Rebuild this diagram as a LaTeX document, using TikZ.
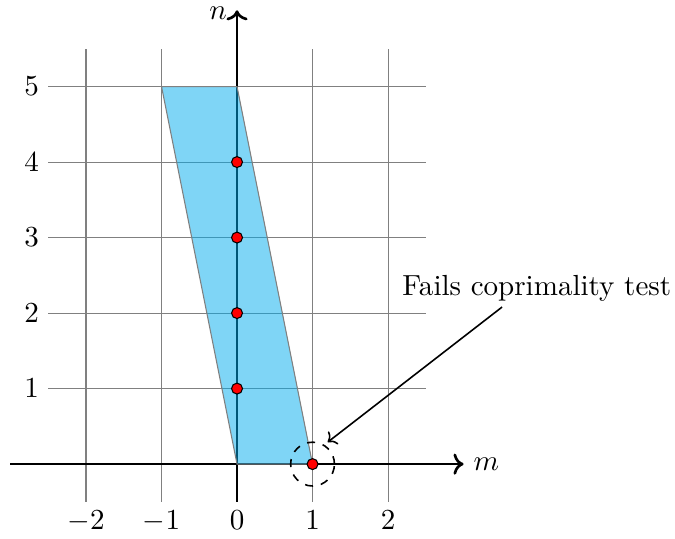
\documentclass[tikz,border=0pt]{standalone}
\usetikzlibrary{arrows.meta}
\definecolor{regionblue}{RGB}{0,172,238}
\begin{document}
\begin{tikzpicture}[
  font=\fontsize{10.95}{13.6}\selectfont,
  gridline/.style={gray, thin},
  axis/.style={line width=1pt, ->},
  region/.style={fill=regionblue, fill opacity=0.5, draw=gray, thin},
  dot/.style={circle, fill=red, draw=black, inner sep=0pt, minimum size=1.45mm},
  ring/.style={circle, draw=black, semithick, dashed, minimum size=0.58cm, inner sep=0pt},
  note/.style={inner sep=2pt}
]
\useasboundingbox (-3.139,-0.980) rectangle (5.80,6.146);
% grid
\draw[gridline] (-2.5,-0.5) grid (2.5,5.5);
% axes
\coordinate (xs) at (-3,0);
\coordinate (xe) at (3,0);
\coordinate (ys) at (0,-0.5);
\coordinate (ye) at (0,6.01);
\draw[axis] (xs) -- (xe) node[right] (ml) {$m$};
\draw[axis] (ys) -- (ye);
\node[inner sep=0pt] (nl) at (-0.25,5.965) {$n$};
% tick labels
\foreach \x in {-2,-1,0,1,2} \node[anchor=north] (lx\x) at (\x,-0.5) {$\x$};
\foreach \y in {1,...,5} \node[anchor=east] (ly\y) at (-2.5,\y) {$\y$};
% region
\draw[region] (0,0) -- (1,0) -- (0,5) -- (-1,5) -- cycle;
% dots
\foreach \y in {1,...,4} \node[dot] (d\y) at (0,\y) {};
\node[dot] (d0) at (1,0) {};
\node[ring] (r) at (1,0) {};
% annotation
\node[note] (txt) at (3.97,2.33) {Fails coprimality test};
\coordinate (as) at (3.51,2.08);
\coordinate (ae) at (1.2,0.29);
\draw[->, semithick] (as) -- (ae);
\end{tikzpicture}
\end{document}
